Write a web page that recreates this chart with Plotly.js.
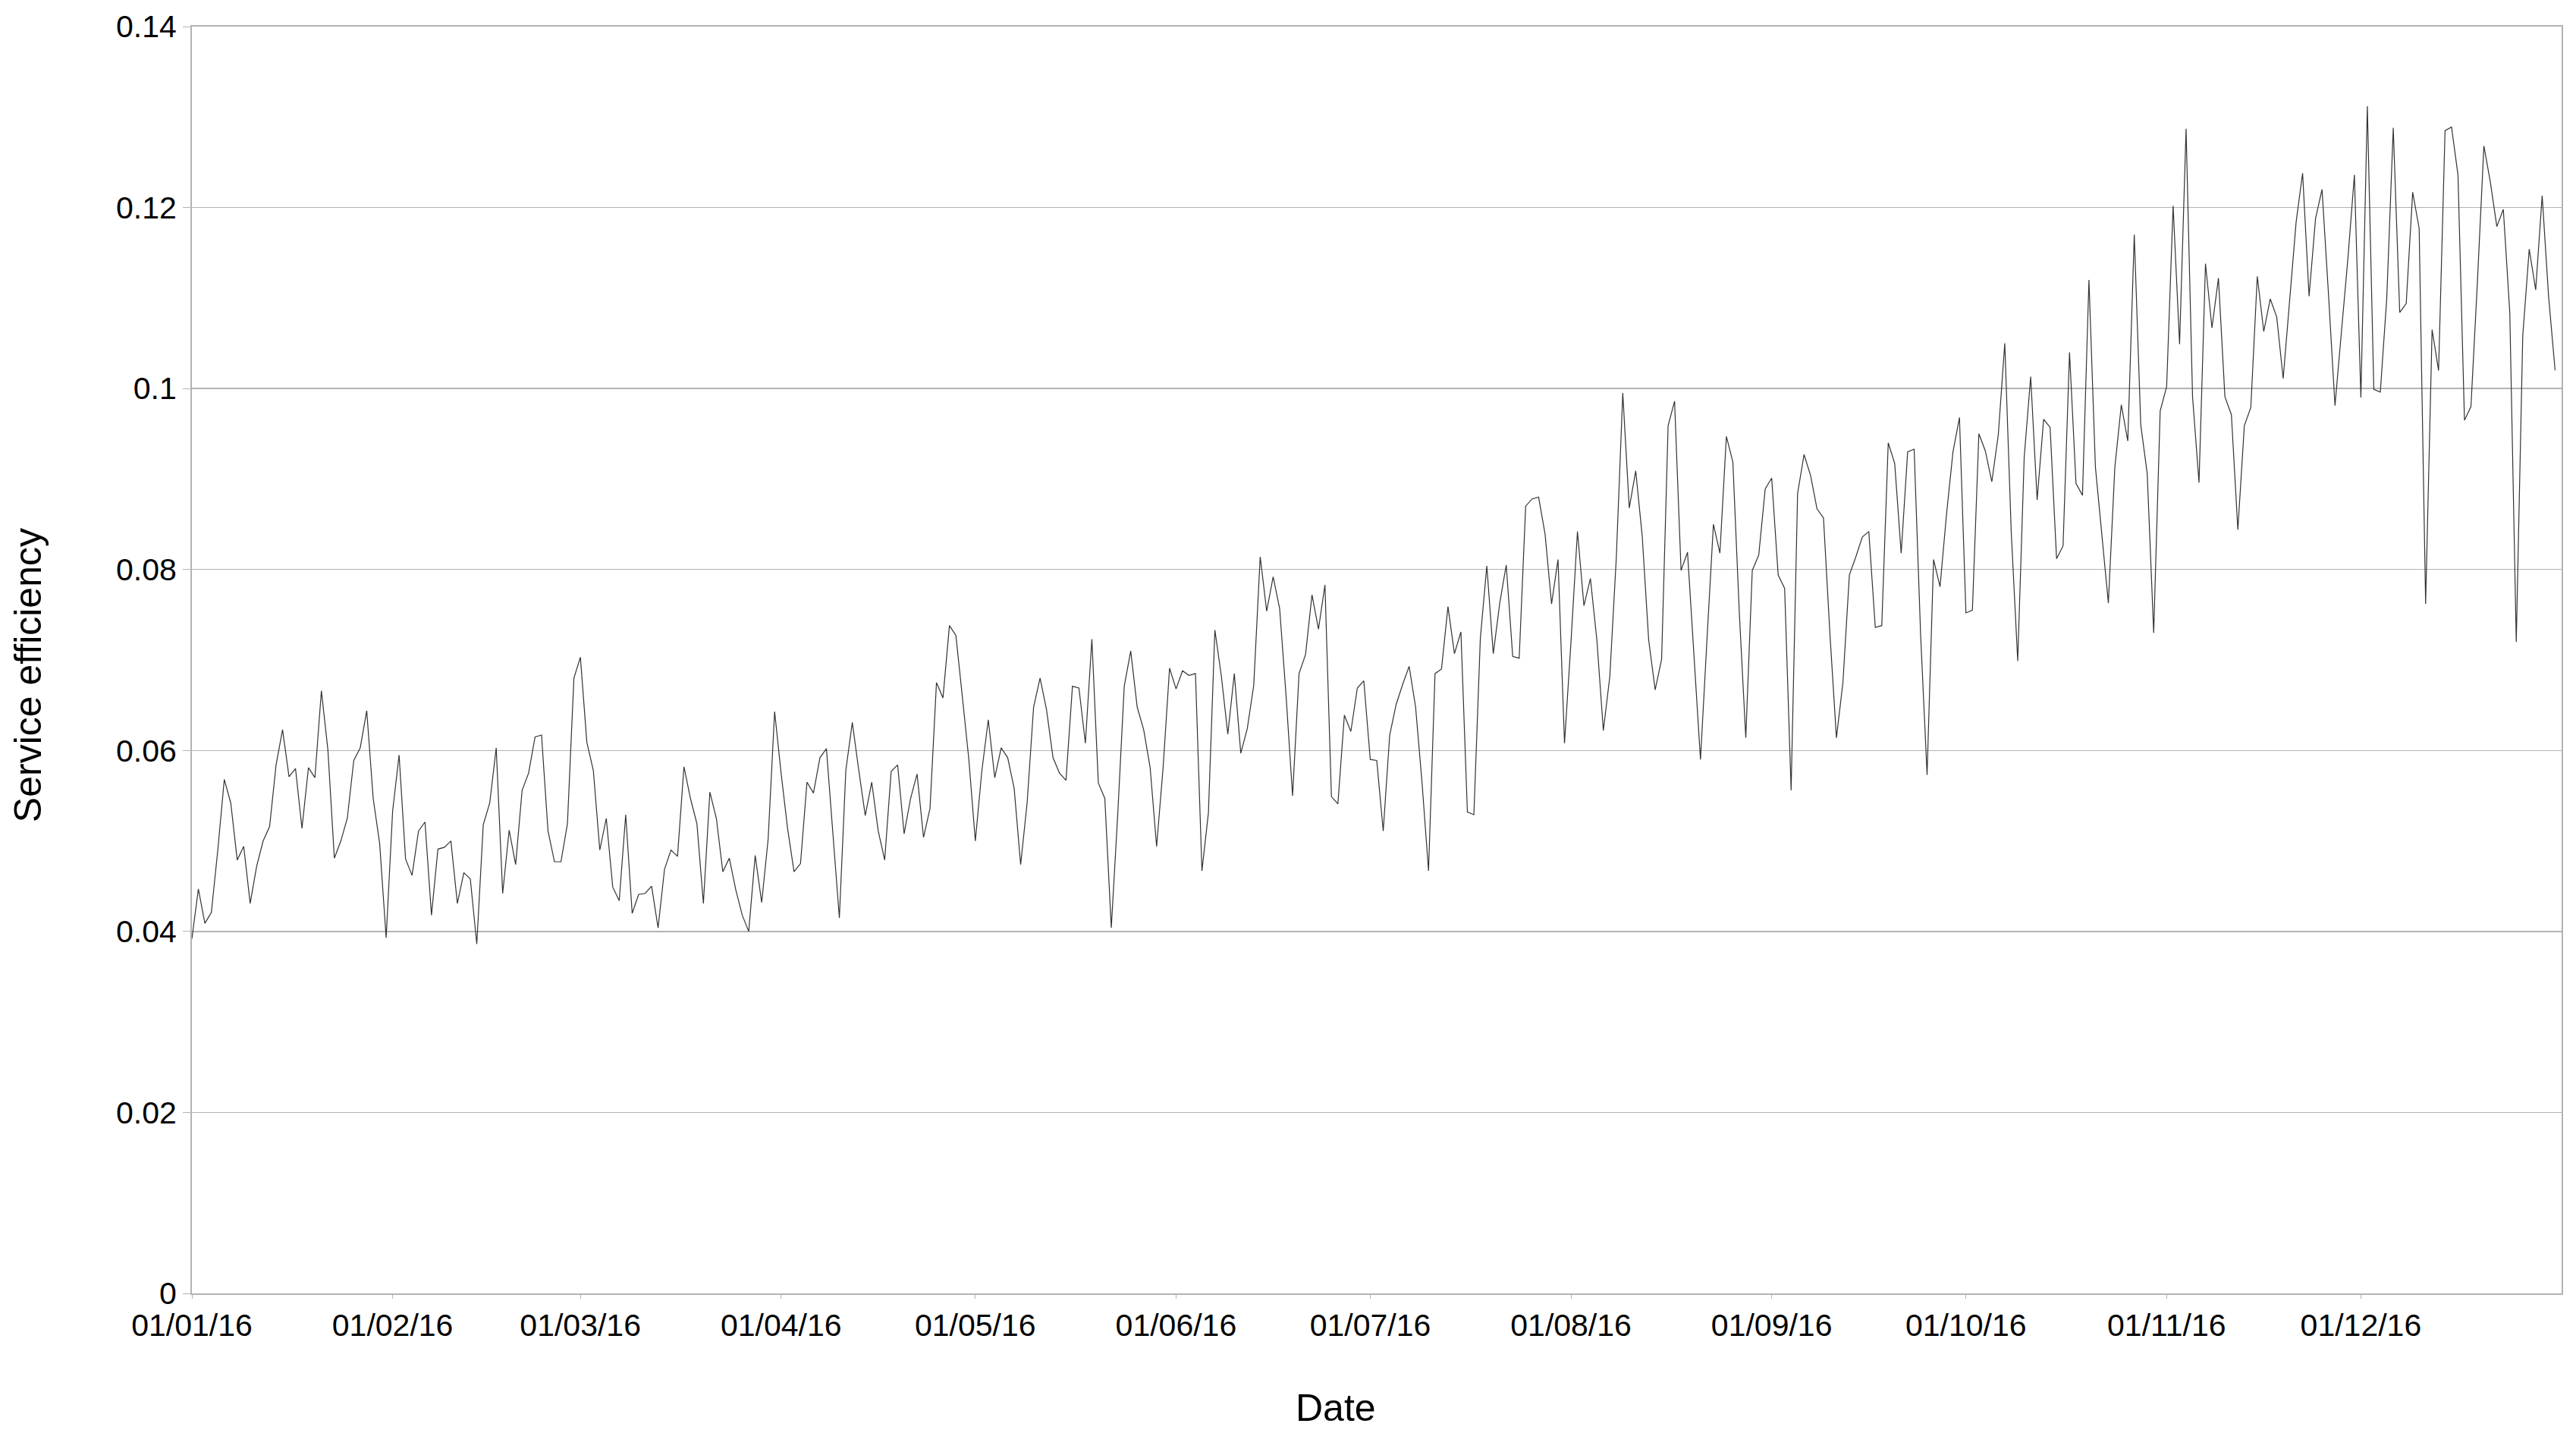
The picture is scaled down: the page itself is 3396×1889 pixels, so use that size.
<!DOCTYPE html>
<html>
<head>
<meta charset="utf-8">
<script src="https://cdn.plot.ly/plotly-3.0.1.min.js"></script>
<style>
  html, body { margin: 0; padding: 0; background: #fff; }
  #chart { width: 3396px; height: 1889px; }
</style>
</head>
<body>
<div id="chart"></div>
<script>
// daily service efficiency, 01/01/16 .. 31/12/16
let startDate = "2016-01-01"
let efficiency = [
  0.0392, 0.0447, 0.0409, 0.0421, 0.0490, 0.0568, 0.0542, 0.0479, 0.0494, 0.0431,
  0.0472, 0.0500, 0.0516, 0.0584, 0.0623, 0.0571, 0.0580, 0.0514, 0.0581, 0.0570,
  0.0666, 0.0601, 0.0481, 0.0500, 0.0525, 0.0589, 0.0603, 0.0644, 0.0547, 0.0497,
  0.0393, 0.0533, 0.0595, 0.0480, 0.0462, 0.0511, 0.0521, 0.0418, 0.0491, 0.0493,
  0.0500, 0.0431, 0.0465, 0.0458, 0.0386, 0.0518, 0.0542, 0.0603, 0.0442, 0.0512,
  0.0474, 0.0556, 0.0575, 0.0615, 0.0617, 0.0511, 0.0477, 0.0477, 0.0519, 0.0680,
  0.0703, 0.0609, 0.0578, 0.0490, 0.0525, 0.0449, 0.0434, 0.0529, 0.0420, 0.0441,
  0.0442, 0.0450, 0.0404, 0.0469, 0.0490, 0.0483, 0.0582, 0.0547, 0.0519, 0.0431,
  0.0554, 0.0525, 0.0466, 0.0481, 0.0446, 0.0418, 0.0400, 0.0484, 0.0432, 0.0502,
  0.0643, 0.0575, 0.0514, 0.0466, 0.0475, 0.0565, 0.0553, 0.0592, 0.0602, 0.0505,
  0.0415, 0.0578, 0.0631, 0.0578, 0.0528, 0.0565, 0.0511, 0.0479, 0.0577, 0.0584,
  0.0508, 0.0547, 0.0574, 0.0504, 0.0536, 0.0675, 0.0658, 0.0738, 0.0727, 0.0659,
  0.0590, 0.0500, 0.0577, 0.0634, 0.0570, 0.0603, 0.0592, 0.0558, 0.0474, 0.0542,
  0.0648, 0.0680, 0.0645, 0.0592, 0.0575, 0.0567, 0.0671, 0.0669, 0.0608, 0.0723,
  0.0564, 0.0547, 0.0404, 0.0530, 0.0671, 0.0710, 0.0648, 0.0623, 0.0581, 0.0494,
  0.0581, 0.0691, 0.0668, 0.0688, 0.0683, 0.0685, 0.0467, 0.0531, 0.0733, 0.0682,
  0.0618, 0.0685, 0.0597, 0.0624, 0.0672, 0.0814, 0.0754, 0.0792, 0.0757, 0.0660,
  0.0550, 0.0685, 0.0706, 0.0772, 0.0734, 0.0783, 0.0549, 0.0541, 0.0639, 0.0621,
  0.0669, 0.0677, 0.0590, 0.0589, 0.0511, 0.0617, 0.0651, 0.0673, 0.0693, 0.0648,
  0.0564, 0.0467, 0.0685, 0.0690, 0.0759, 0.0707, 0.0731, 0.0532, 0.0529, 0.0724,
  0.0804, 0.0707, 0.0763, 0.0805, 0.0704, 0.0702, 0.0870, 0.0878, 0.0880, 0.0839,
  0.0762, 0.0811, 0.0608, 0.0720, 0.0842, 0.0760, 0.0790, 0.0722, 0.0622, 0.0682,
  0.0813, 0.0995, 0.0868, 0.0909, 0.0837, 0.0722, 0.0667, 0.0701, 0.0959, 0.0986,
  0.0799, 0.0819, 0.0707, 0.0590, 0.0722, 0.0850, 0.0818, 0.0947, 0.0919, 0.0752,
  0.0614, 0.0799, 0.0816, 0.0889, 0.0901, 0.0794, 0.0779, 0.0556, 0.0884, 0.0927,
  0.0904, 0.0867, 0.0857, 0.0728, 0.0614, 0.0675, 0.0794, 0.0814, 0.0836, 0.0842,
  0.0736, 0.0738, 0.0940, 0.0917, 0.0818, 0.0930, 0.0933, 0.0728, 0.0573, 0.0811,
  0.0781, 0.0861, 0.0930, 0.0968, 0.0752, 0.0755, 0.0950, 0.0931, 0.0897, 0.0949,
  0.1050, 0.0841, 0.0699, 0.0924, 0.1013, 0.0877, 0.0966, 0.0957, 0.0812, 0.0826,
  0.1040, 0.0895, 0.0882, 0.1120, 0.0913, 0.0841, 0.0763, 0.0913, 0.0982, 0.0942,
  0.1170, 0.0960, 0.0906, 0.0730, 0.0975, 0.1002, 0.1202, 0.1049, 0.1287, 0.0991,
  0.0896, 0.1138, 0.1067, 0.1122, 0.0991, 0.0971, 0.0844, 0.0959, 0.0979, 0.1124,
  0.1063, 0.1099, 0.1079, 0.1011, 0.1095, 0.1184, 0.1238, 0.1102, 0.1188, 0.1220,
  0.1104, 0.0981, 0.1063, 0.1144, 0.1236, 0.0990, 0.1312, 0.0999, 0.0996, 0.1100,
  0.1288, 0.1084, 0.1094, 0.1217, 0.1177, 0.0762, 0.1065, 0.1020, 0.1285, 0.1289,
  0.1236, 0.0965, 0.0980, 0.1118, 0.1268, 0.1228, 0.1179, 0.1198, 0.1084, 0.0720,
  0.1058, 0.1154, 0.1109, 0.1213, 0.1101, 0.1020
]

let monthTicks = [
  "2016-01-01", "2016-02-01", "2016-03-01", "2016-04-01", "2016-05-01", "2016-06-01",
  "2016-07-01", "2016-08-01", "2016-09-01", "2016-10-01", "2016-11-01", "2016-12-01"
]
let monthLabels = [
  "01/01/16", "01/02/16", "01/03/16", "01/04/16", "01/05/16", "01/06/16",
  "01/07/16", "01/08/16", "01/09/16", "01/10/16", "01/11/16", "01/12/16"
]

// one date per value, consecutive days
let dates = []
let d0 = new Date(startDate + "T00:00:00Z")
for (let i = 0; i < efficiency.length; i++)
{
    let d = new Date(d0.getTime() + i * 86400000)
    dates.push(d.toISOString().slice(0, 10))
}

let trace = {
    x: dates,
    y: efficiency,
    type: "scatter",
    mode: "lines",
    line: { color: "#333333", width: 1.2 },
    hoverinfo: "x+y"
}

let gridGrey = "#b3b3b3"

let layout = {
    width: 3396,
    height: 1889,
    paper_bgcolor: "#ffffff",
    plot_bgcolor: "#ffffff",
    showlegend: false,
    font: { family: "Liberation Sans, Arial, sans-serif", color: "#000000", size: 41 },
    margin: { l: 253, r: 19, t: 35, b: 184, pad: 0 },
    xaxis: {
        type: "date",
        range: ["2016-01-01", "2017-01-01"],
        tickmode: "array",
        tickvals: monthTicks,
        ticktext: monthLabels,
        ticks: "outside",
        ticklen: 5,
        tickcolor: gridGrey,
        tickfont: { size: 41 },
        showgrid: false,
        zeroline: false,
        showline: true,
        linecolor: gridGrey,
        linewidth: 2,
        mirror: true
    },
    yaxis: {
        range: [0, 0.14],
        dtick: 0.02,
        tick0: 0,
        ticks: "outside",
        ticklen: 10,
        tickcolor: gridGrey,
        tickfont: { size: 41 },
        showgrid: true,
        gridcolor: gridGrey,
        gridwidth: 1.5,
        zeroline: false,
        showline: true,
        linecolor: gridGrey,
        linewidth: 2,
        mirror: true
    },
    // axis titles placed as in the reference (slightly off the plot centre)
    annotations: [
        {
            text: "Date", xref: "paper", yref: "paper",
            x: 0.4827, y: -0.0904, xanchor: "center", yanchor: "middle",
            showarrow: false, font: { size: 50 }
        },
        {
            text: "Service efficiency", xref: "paper", yref: "paper",
            x: -0.0691, y: 0.488, xanchor: "center", yanchor: "middle",
            textangle: -90, showarrow: false, font: { size: 50 }
        }
    ]
}

Plotly.newPlot("chart", [trace], layout, { staticPlot: true })
</script>
</body>
</html>
